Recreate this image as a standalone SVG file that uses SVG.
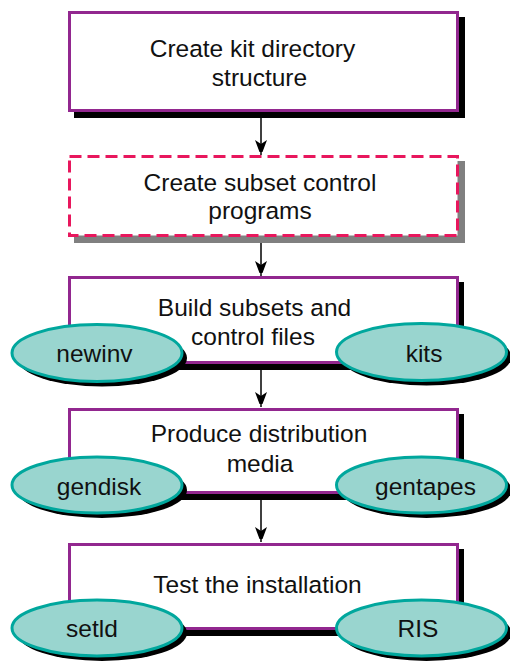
<svg xmlns="http://www.w3.org/2000/svg" width="510" height="664" viewBox="0 0 510 664">
<defs>
<style>
.box{fill:#fff;stroke:#92278F;stroke-width:3}
.dbox{fill:#fff;stroke:#E8175D;stroke-width:3;stroke-dasharray:12 6}
.sh{fill:#000}
.gsh{fill:#808080}
.ell{fill:#99D5CF;stroke:#00A79D;stroke-width:3}
.t{font-family:"Liberation Sans",Arial,sans-serif;font-size:24.5px;fill:#111;text-anchor:middle}
.con{stroke:#000;stroke-width:1.5;fill:none}
</style>
<marker id="arr" markerWidth="12" markerHeight="16" viewBox="0 0 12 16" refX="15" refY="6" orient="auto" markerUnits="userSpaceOnUse">
<path d="M0,0 L16,6 L0,12 L4,6 Z" fill="#000"/>
</marker>
</defs>
<g id="connectors">
<line class="con" x1="261" y1="118" x2="261" y2="155" marker-end="url(#arr)"/>
<line class="con" x1="261" y1="243" x2="261" y2="276" marker-end="url(#arr)"/>
<line class="con" x1="261" y1="370" x2="261" y2="407" marker-end="url(#arr)"/>
<line class="con" x1="261" y1="500" x2="261" y2="542" marker-end="url(#arr)"/>
</g>
<g id="n1">
<rect class="sh" x="74" y="17" width="391" height="101"/>
<rect class="box" x="69.5" y="12.5" width="388" height="98"/>
<text class="t" x="252.5" y="57">Create kit directory</text>
<text class="t" x="259.5" y="86">structure</text>
</g>
<g id="n2">
<rect class="gsh" x="74" y="161" width="391" height="82"/>
<rect class="dbox" x="69.5" y="156.5" width="388" height="79"/>
<text class="t" x="260" y="191">Create subset control</text>
<text class="t" x="260" y="219">programs</text>
</g>
<g id="n3">
<rect class="sh" x="74" y="282" width="390" height="88"/>
<rect class="box" x="69.5" y="277.5" width="388" height="85"/>
<text class="t" x="254.5" y="316">Build subsets and</text>
<text class="t" x="253" y="345">control files</text>
</g>
<g id="newinv">
<ellipse class="sh" cx="102" cy="358" rx="85" ry="28.5"/>
<ellipse class="ell" cx="97" cy="353" rx="85" ry="28.5"/>
<text class="t" x="94.5" y="362">newinv</text>
</g>
<g id="kits">
<ellipse class="sh" cx="426.5" cy="357" rx="85" ry="28.5"/>
<ellipse class="ell" cx="421.5" cy="352" rx="85" ry="28.5"/>
<text class="t" x="424" y="362">kits</text>
</g>
<g id="n4">
<rect class="sh" x="74" y="414" width="390" height="86"/>
<rect class="box" x="69.5" y="409.5" width="388" height="83"/>
<text class="t" x="259" y="442">Produce distribution</text>
<text class="t" x="260" y="472">media</text>
</g>
<g id="gendisk">
<ellipse class="sh" cx="102" cy="490" rx="85" ry="28"/>
<ellipse class="ell" cx="97" cy="485" rx="85" ry="28"/>
<text class="t" x="99" y="495">gendisk</text>
</g>
<g id="gentapes">
<ellipse class="sh" cx="426.5" cy="490" rx="85" ry="28"/>
<ellipse class="ell" cx="421.5" cy="485" rx="85" ry="28"/>
<text class="t" x="425.5" y="495">gentapes</text>
</g>
<g id="n5">
<rect class="sh" x="74" y="549" width="390" height="87"/>
<rect class="box" x="69.5" y="544.5" width="388" height="84"/>
<text class="t" x="257.5" y="593">Test the installation</text>
</g>
<g id="setld">
<ellipse class="sh" cx="102" cy="633" rx="85" ry="28"/>
<ellipse class="ell" cx="97" cy="628" rx="85" ry="28"/>
<text class="t" x="92" y="637">setld</text>
</g>
<g id="RIS">
<ellipse class="sh" cx="426.5" cy="633" rx="85" ry="28"/>
<ellipse class="ell" cx="421.5" cy="628" rx="85" ry="28"/>
<text class="t" x="418" y="637">RIS</text>
</g>
</svg>
